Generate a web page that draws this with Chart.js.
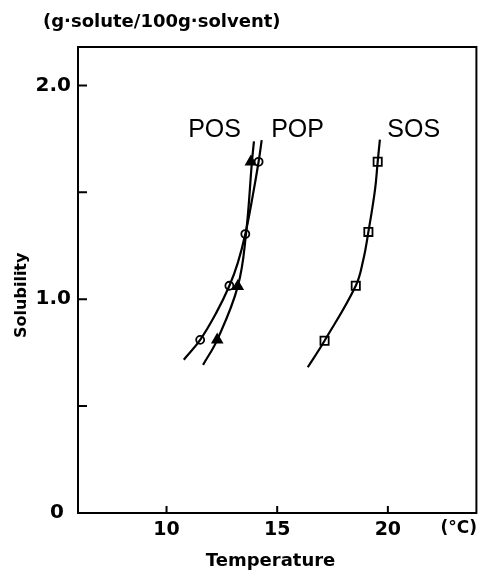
<!DOCTYPE html>
<html>
<head>
<meta charset="utf-8">
<script src="https://cdn.jsdelivr.net/npm/chart.js@4/dist/chart.umd.min.js"></script>
<style>
  body { margin: 0; background: #fff; }
</style>
</head>
<body>
<canvas id="chart" width="484" height="573"></canvas>
<script>
// measured points (temperature in °C, solubility in g/100g solvent)
const posTemp = [11.52, 12.84, 13.56, 14.16];
const posSol = [0.810, 1.063, 1.305, 1.643];
const popTemp = [12.29, 13.22, 13.81];
const popSol = [0.810, 1.060, 1.643];
const sosTemp = [17.14, 18.55, 19.12, 19.54];
const sosSol = [0.806, 1.063, 1.315, 1.643];

// the drawn solubility curves
const posCurveTemp = [10.78, 11.52, 12.24, 12.84, 13.22, 13.56, 13.89, 14.16, 14.30];
const posCurveSol = [0.717, 0.810, 0.935, 1.063, 1.170, 1.305, 1.481, 1.643, 1.744];
const popCurveTemp = [11.65, 12.29, 13.22, 13.59, 13.86, 13.95];
const popCurveSol = [0.693, 0.810, 1.060, 1.305, 1.644, 1.739];
const sosCurveTemp = [16.38, 17.14, 18.55, 18.89, 19.12, 19.42, 19.54, 19.64];
const sosCurveSol = [0.682, 0.806, 1.063, 1.185, 1.315, 1.513, 1.643, 1.747];

const seriesNames = ['POS', 'POP', 'SOS'];
const xTickLabels = ['10', '15', '20'];
const yTickLabels = ['0', '1.0', '2.0'];

const toXY = (xs, ys) => xs.map((x, i) => ({x, y: ys[i]}));

const curve = (xs, ys) => ({
  data: toXY(xs, ys),
  showLine: true,
  borderColor: '#000',
  borderWidth: 2.2,
  pointRadius: 0,
  tension: 0.4,
});

const marks = (xs, ys, style, radius, fill) => ({
  data: toXY(xs, ys),
  showLine: false,
  pointStyle: style,
  pointRadius: radius,
  pointBorderWidth: 1.8,
  pointBorderColor: '#000',
  pointBackgroundColor: fill,
});

// frame, inward tick marks and the loose labels of the figure
const figureText = {
  id: 'figureText',
  afterDraw(chart) {
    const {ctx, chartArea: a, scales: {x, y}} = chart;
    ctx.save();
    ctx.strokeStyle = '#000';
    ctx.lineWidth = 2;
    ctx.strokeRect(a.left, a.top, a.right - a.left, a.bottom - a.top);

    ctx.beginPath();
    y.ticks.forEach(t => {
      if (t.value === 0) return;
      const py = y.getPixelForValue(t.value);
      ctx.moveTo(a.left, py);
      ctx.lineTo(a.left + 9, py);
    });
    x.ticks.forEach(t => {
      const px = x.getPixelForValue(t.value);
      ctx.moveTo(px, a.bottom);
      ctx.lineTo(px, a.bottom - 7);
    });
    ctx.stroke();

    ctx.fillStyle = '#000';
    ctx.textBaseline = 'middle';

    ctx.font = 'bold 18px "DejaVu Sans"';
    ctx.textAlign = 'left';
    ctx.fillText('(g·solute/100g·solvent)', a.left - 35, a.top - 25);

    ctx.textAlign = 'center';
    ctx.fillText('Temperature', x.getPixelForValue(14.7), a.bottom + 48);

    ctx.font = 'bold 17px "DejaVu Sans"';
    ctx.fillText('(°C)', x.getPixelForValue(23.2), a.bottom + 16);

    ctx.save();
    ctx.font = 'bold 16px "DejaVu Sans"';
    ctx.translate(22, y.getPixelForValue(1.0) - 4);
    ctx.rotate(-Math.PI / 2);
    ctx.fillText('Solubility', 0, 0);
    ctx.restore();

    ctx.font = '25px "Liberation Sans"';
    const labelTemps = [12.17, 15.92, 21.17];
    seriesNames.forEach((name, i) => {
      ctx.fillText(name, x.getPixelForValue(labelTemps[i]), y.getPixelForValue(1.789));
    });
    ctx.restore();
  }
};

new Chart(document.getElementById('chart'), {
  type: 'scatter',
  data: {
    datasets: [
      curve(posCurveTemp, posCurveSol),
      curve(popCurveTemp, popCurveSol),
      curve(sosCurveTemp, sosCurveSol),
      marks(posTemp, posSol, 'circle', 4, '#fff'),
      marks(popTemp, popSol, 'triangle', 5.5, '#000'),
      marks(sosTemp, sosSol, 'rect', 5.8, '#fff'),
    ]
  },
  options: {
    responsive: false,
    animation: false,
    layout: {padding: {left: 0, right: 6, top: 47, bottom: 0}},
    plugins: {legend: {display: false}, tooltip: {enabled: false}},
    scales: {
      x: {
        type: 'linear',
        min: 6,
        max: 24,
        grid: {display: false, drawTicks: false},
        border: {display: false},
        ticks: {
          stepSize: 5,
          includeBounds: false,
          autoSkip: false,
          maxRotation: 0,
          padding: 6,
          color: '#000',
          font: {family: 'DejaVu Sans', size: 19, weight: 'bold'},
          callback: v => xTickLabels[[10, 15, 20].indexOf(v)] ?? '',
        },
        afterFit: s => { s.height = 60; },
      },
      y: {
        min: 0,
        max: 2.18,
        grid: {display: false, drawTicks: false},
        border: {display: false},
        ticks: {
          stepSize: 0.5,
          includeBounds: false,
          autoSkip: false,
          padding: 7,
          color: '#000',
          font: {family: 'DejaVu Sans', size: 20, weight: 'bold'},
          callback: v => v === 0 ? yTickLabels[0] + ' ' : v === 1 ? yTickLabels[1] : v === 2 ? yTickLabels[2] : '',
        },
        afterFit: s => { s.width = 78; },
      }
    }
  },
  plugins: [figureText]
});
</script>
</body>
</html>
